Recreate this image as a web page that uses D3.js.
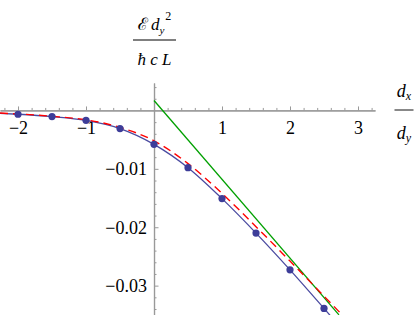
<!DOCTYPE html>
<html>
<head>
<meta charset="utf-8">
<script src="https://cdn.jsdelivr.net/npm/d3@7"></script>
<style>
  body { margin: 0; background: #fff; }
  svg text { font-family: "Liberation Serif", "Times New Roman", Times, "DejaVu Serif", "Noto Serif", serif !important; }
</style>
</head>
<body>
<div id="chart"></div>
<script>
// values
var dotX = [-2, -1.5, -1, -0.5, 0, 0.5, 1, 1.5, 2, 2.5];
var dotY = [-0.00065, -0.00105, -0.0017, -0.0031, -0.0058, -0.0098, -0.0151, -0.0210, -0.0273, -0.0339];

var blueX = [-2.265, -2, -1.5, -1, -0.5, 0, 0.5, 1, 1.5, 2, 2.5, 2.62];
var blueY = [-0.0005, -0.00065, -0.00105, -0.0017, -0.0031, -0.0058, -0.0098, -0.0151, -0.0210, -0.0273, -0.0339, -0.0355];

var redX = [-2.265, -2, -1.5, -1, -0.5, 0, 0.5, 1, 1.5, 2, 2.5, 2.8];
var redY = [-0.00045, -0.0006, -0.001, -0.0016, -0.0029, -0.0052, -0.0091, -0.0142, -0.0199, -0.0258, -0.0318, -0.0354];

var greenX = [0, 2.72];
var greenY = [0.0017, -0.0350];

var xMajor = [-2, -1, 1, 2, 3];
var yMajor = [-0.01, -0.02, -0.03];

var width = 416, height = 315;
var serif = '"Liberation Serif", "Times New Roman", Times, "DejaVu Serif", serif';

var svg = d3.select('#chart').append('svg')
   .attr('width', width)
   .attr('height', height);

var x = d3.scaleLinear().domain([-2.265, 3.25]).range([0, 375]);
var y = d3.scaleLinear().domain([0.0047, -0.0352]).range([83, 316]);

// minor tick positions
var xMinor = d3.range(-11, 17).map(function(i) { return i / 5; })
   .filter(function(v) { return Math.abs(v - Math.round(v)) > 1e-9; });
var yMinor = d3.range(-17, 3).map(function(i) { return i * 0.002; })
   .filter(function(v) { return Math.abs(v * 100 - Math.round(v * 100)) > 1e-9; });

var axisColor = '#999';

// x axis
var gx = svg.append('g').attr('transform', 'translate(0,' + y(0) + ')');
gx.append('g').call(d3.axisBottom(x).tickValues(xMinor).tickSize(-2.5).tickFormat('').tickSizeOuter(0));
gx.append('g').call(d3.axisBottom(x).tickValues(xMajor).tickSize(-4).tickPadding(11)
   .tickFormat(function(d) { return d3.format('d')(d).replace('-', '\u2212'); }).tickSizeOuter(0));

// y axis
var gy = svg.append('g').attr('transform', 'translate(' + x(0) + ',0)');
gy.append('g').call(d3.axisLeft(y).tickValues(yMinor).tickSize(-2.5).tickFormat('').tickSizeOuter(0));
gy.append('g').call(d3.axisLeft(y).tickValues(yMajor).tickSize(-4.5).tickPadding(7)
   .tickFormat(function(d) { return d3.format('.2f')(d).replace('-', '\u2212'); }).tickSizeOuter(0));

svg.selectAll('g').attr('font-family', serif);
svg.selectAll('.domain').attr('stroke', axisColor).attr('stroke-width', 1.2);
svg.selectAll('.tick line').attr('stroke', axisColor);
svg.selectAll('.tick text')
   .attr('font-size', 18)
   .attr('fill', '#000');

// curves
var line = d3.line()
   .x(function(d) { return x(d[0]); })
   .y(function(d) { return y(d[1]); })
   .curve(d3.curveMonotoneX);

svg.append('defs').append('clipPath').attr('id', 'clip')
   .append('rect').attr('x', 0).attr('y', 83).attr('width', 380).attr('height', 240);

var plot = svg.append('g').attr('clip-path', 'url(#clip)');

plot.append('path')
   .datum(d3.zip(greenX, greenY))
   .attr('fill', 'none')
   .attr('stroke', '#00a000')
   .attr('stroke-width', 1.3)
   .attr('d', line);

plot.append('path')
   .datum(d3.zip(blueX, blueY))
   .attr('fill', 'none')
   .attr('stroke', '#4a4aa0')
   .attr('stroke-width', 1.3)
   .attr('d', line);

plot.append('path')
   .datum(d3.zip(redX, redY))
   .attr('fill', 'none')
   .attr('stroke', '#ff0000')
   .attr('stroke-width', 1.4)
   .attr('stroke-dasharray', '8,5')
   .attr('d', line);

plot.selectAll('circle.pt')
   .data(d3.zip(dotX, dotY))
   .enter().append('circle')
   .attr('class', 'pt')
   .attr('cx', function(d) { return x(d[0]); })
   .attr('cy', function(d) { return y(d[1]); })
   .attr('r', 3.6)
   .attr('fill', '#3d3d99');

// axis labels as fractions
function fraction(cx, yNum, yBar, yDen, barHalf, fs, num, den) {
   var t1 = svg.append('text')
      .attr('x', cx).attr('y', yNum)
      .attr('text-anchor', 'middle')
      .attr('font-family', serif)
      .attr('font-size', fs)
      .attr('font-style', 'italic');
   num(t1);
   svg.append('line')
      .attr('x1', cx - barHalf).attr('x2', cx + barHalf)
      .attr('y1', yBar).attr('y2', yBar)
      .attr('stroke', '#555').attr('stroke-width', 1.4);
   var t2 = svg.append('text')
      .attr('x', cx).attr('y', yDen)
      .attr('text-anchor', 'middle')
      .attr('font-family', serif)
      .attr('font-size', fs)
      .attr('font-style', 'italic');
   den(t2);
}

fraction(154.5, 30, 40, 65, 21.5, 17,
   function(t) {
      t.append('tspan').attr('font-style', 'normal').text('\u2130');
      t.append('tspan').attr('dx', 3).text('d');
      t.append('tspan').attr('font-size', 11).attr('dy', 4).text('y');
      t.append('tspan').attr('font-size', 12).attr('font-style', 'normal').attr('dy', -14).attr('dx', 1).text('2');
   },
   function(t) {
      t.append('tspan').text('\u0127 c L');
   });

fraction(404, 97, 110, 139, 9.5, 18,
   function(t) {
      t.append('tspan').text('d');
      t.append('tspan').attr('font-size', 12).attr('dy', 3).text('x');
   },
   function(t) {
      t.append('tspan').text('d');
      t.append('tspan').attr('font-size', 12).attr('dy', 3).text('y');
   });
</script>
</body>
</html>
